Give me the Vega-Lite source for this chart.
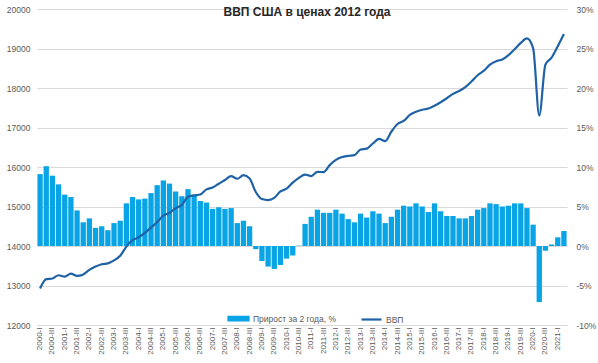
{
  "$schema": "https://vega.github.io/schema/vega-lite/v6.json",
  "width": 530,
  "height": 316,
  "autosize": {"type": "none"},
  "padding": {"left": 37, "top": 9, "right": 31, "bottom": 38},
  "background": "white",
  "config": {"view": {"stroke": null}, "font": "Liberation Sans"},
  "title": {"text": "ВВП США в ценах 2012 года", "fontSize": 12, "fontWeight": "bold", "color": "#262626", "anchor": "middle", "offset": -14, "dx": 5},
  "data": {"values": [
    {"q": "2000-I", "gdp": 12924, "g": 9.1},
    {"q": "2000-II", "gdp": 13161, "g": 10.1},
    {"q": "2000-III", "gdp": 13178, "g": 8.9},
    {"q": "2000-IV", "gdp": 13260, "g": 7.8},
    {"q": "2001-I", "gdp": 13223, "g": 6.5},
    {"q": "2001-II", "gdp": 13300, "g": 6.2},
    {"q": "2001-III", "gdp": 13245, "g": 4.5},
    {"q": "2001-IV", "gdp": 13281, "g": 3.0},
    {"q": "2002-I", "gdp": 13397, "g": 3.5},
    {"q": "2002-II", "gdp": 13478, "g": 2.3},
    {"q": "2002-III", "gdp": 13539, "g": 2.5},
    {"q": "2002-IV", "gdp": 13560, "g": 2.0},
    {"q": "2003-I", "gdp": 13635, "g": 2.9},
    {"q": "2003-II", "gdp": 13751, "g": 3.2},
    {"q": "2003-III", "gdp": 13985, "g": 5.4},
    {"q": "2003-IV", "gdp": 14146, "g": 6.2},
    {"q": "2004-I", "gdp": 14221, "g": 5.9},
    {"q": "2004-II", "gdp": 14330, "g": 6.0},
    {"q": "2004-III", "gdp": 14465, "g": 6.7},
    {"q": "2004-IV", "gdp": 14606, "g": 7.7},
    {"q": "2005-I", "gdp": 14767, "g": 8.3},
    {"q": "2005-II", "gdp": 14839, "g": 7.9},
    {"q": "2005-III", "gdp": 14956, "g": 6.9},
    {"q": "2005-IV", "gdp": 15041, "g": 6.3},
    {"q": "2006-I", "gdp": 15244, "g": 7.2},
    {"q": "2006-II", "gdp": 15281, "g": 6.5},
    {"q": "2006-III", "gdp": 15305, "g": 5.7},
    {"q": "2006-IV", "gdp": 15434, "g": 5.5},
    {"q": "2007-I", "gdp": 15479, "g": 4.7},
    {"q": "2007-II", "gdp": 15577, "g": 4.9},
    {"q": "2007-III", "gdp": 15671, "g": 4.7},
    {"q": "2007-IV", "gdp": 15767, "g": 4.8},
    {"q": "2008-I", "gdp": 15702, "g": 2.9},
    {"q": "2008-II", "gdp": 15792, "g": 3.2},
    {"q": "2008-III", "gdp": 15709, "g": 2.5},
    {"q": "2008-IV", "gdp": 15366, "g": -0.4},
    {"q": "2009-I", "gdp": 15188, "g": -1.9},
    {"q": "2009-II", "gdp": 15161, "g": -2.6},
    {"q": "2009-III", "gdp": 15216, "g": -2.9},
    {"q": "2009-IV", "gdp": 15380, "g": -2.4},
    {"q": "2010-I", "gdp": 15450, "g": -1.6},
    {"q": "2010-II", "gdp": 15606, "g": -1.2},
    {"q": "2010-III", "gdp": 15726, "g": 0.05},
    {"q": "2010-IV", "gdp": 15809, "g": 2.8},
    {"q": "2011-I", "gdp": 15769, "g": 3.7},
    {"q": "2011-II", "gdp": 15876, "g": 4.6},
    {"q": "2011-III", "gdp": 15871, "g": 4.2},
    {"q": "2011-IV", "gdp": 16048, "g": 4.2},
    {"q": "2012-I", "gdp": 16179, "g": 4.6},
    {"q": "2012-II", "gdp": 16254, "g": 4.1},
    {"q": "2012-III", "gdp": 16282, "g": 3.4},
    {"q": "2012-IV", "gdp": 16300, "g": 3.0},
    {"q": "2013-I", "gdp": 16442, "g": 4.1},
    {"q": "2013-II", "gdp": 16464, "g": 3.6},
    {"q": "2013-III", "gdp": 16595, "g": 4.4},
    {"q": "2013-IV", "gdp": 16713, "g": 4.1},
    {"q": "2014-I", "gdp": 16655, "g": 2.9},
    {"q": "2014-II", "gdp": 16894, "g": 3.7},
    {"q": "2014-III", "gdp": 17089, "g": 4.6},
    {"q": "2014-IV", "gdp": 17165, "g": 5.1},
    {"q": "2015-I", "gdp": 17320, "g": 5.0},
    {"q": "2015-II", "gdp": 17400, "g": 5.4},
    {"q": "2015-III", "gdp": 17450, "g": 5.0},
    {"q": "2015-IV", "gdp": 17480, "g": 4.3},
    {"q": "2016-I", "gdp": 17550, "g": 5.4},
    {"q": "2016-II", "gdp": 17640, "g": 4.4},
    {"q": "2016-III", "gdp": 17740, "g": 3.8},
    {"q": "2016-IV", "gdp": 17850, "g": 3.8},
    {"q": "2017-I", "gdp": 17926, "g": 3.5},
    {"q": "2017-II", "gdp": 18022, "g": 3.5},
    {"q": "2017-III", "gdp": 18164, "g": 3.8},
    {"q": "2017-IV", "gdp": 18324, "g": 4.6},
    {"q": "2018-I", "gdp": 18438, "g": 4.8},
    {"q": "2018-II", "gdp": 18590, "g": 5.4},
    {"q": "2018-III", "gdp": 18679, "g": 5.3},
    {"q": "2018-IV", "gdp": 18721, "g": 5.0},
    {"q": "2019-I", "gdp": 18833, "g": 5.1},
    {"q": "2019-II", "gdp": 18983, "g": 5.4},
    {"q": "2019-III", "gdp": 19141, "g": 5.4},
    {"q": "2019-IV", "gdp": 19254, "g": 4.8},
    {"q": "2020-I", "gdp": 19010, "g": 2.7},
    {"q": "2020-II", "gdp": 17303, "g": -7.1},
    {"q": "2020-III", "gdp": 18597, "g": -0.6},
    {"q": "2020-IV", "gdp": 18767, "g": 0.2},
    {"q": "2021-I", "gdp": 19056, "g": 1.1},
    {"q": "2021-II", "gdp": 19368, "g": 1.9}
  ]},
  "encoding": {
    "x": {
      "field": "q", "type": "nominal", "sort": null,
      "scale": {"paddingInner": 0.14, "paddingOuter": 0.07},
      "axis": {
        "title": null, "labelAngle": -90,
        "labelExpr": "test(/-(I|III)$/, datum.label) ? datum.label : ''",
        "ticks": false, "domain": false, "labelFontSize": 8, "labelColor": "#595959",
        "labelPadding": 2, "labelOverlap": false
      }
    }
  },
  "layer": [
    {
      "mark": {"type": "bar"},
      "encoding": {
        "y": {
          "field": "g", "type": "quantitative",
          "scale": {"domain": [-10, 30], "nice": false},
          "axis": {
            "orient": "right", "values": [-10, -5, 0, 5, 10, 15, 20, 25, 30],
            "labelExpr": "datum.value + '%'", "grid": false, "domain": false, "ticks": false,
            "labelFontSize": 8.5, "labelColor": "#595959", "labelPadding": 9, "title": null
          }
        },
        "color": {
          "datum": "Прирост за 2 года, %", "type": "nominal",
          "scale": {"domain": ["Прирост за 2 года, %", "ВВП"], "range": ["#08a4e6", "#1f63a6"]},
          "legend": {
            "orient": "none", "legendX": 190, "legendY": 298, "direction": "horizontal",
            "title": null, "symbolSize": 400, "labelFontSize": 8.5, "labelColor": "#595959",
            "columnPadding": 20, "labelOffset": 3, "padding": 0,
            "encode": {
              "symbols": {
                "update": {
                  "shape": {"signal": "datum.value === 'ВВП' ? 'stroke' : 'M-1,-0.18H1V0.18H-1Z'"},
                  "fill": {"signal": "datum.value === 'ВВП' ? 'transparent' : '#08a4e6'"},
                  "stroke": {"signal": "datum.value === 'ВВП' ? '#1f63a6' : 'transparent'"},
                  "strokeWidth": {"value": 2.2},
                  "opacity": {"value": 1}
                }
              }
            }
          }
        }
      }
    },
    {
      "mark": {"type": "line", "strokeWidth": 2.2, "interpolate": "monotone"},
      "encoding": {
        "y": {
          "field": "gdp", "type": "quantitative",
          "scale": {"domain": [12000, 20000], "nice": false, "zero": false},
          "axis": {
            "orient": "left", "values": [12000, 13000, 14000, 15000, 16000, 17000, 18000, 19000, 20000],
            "format": "d", "grid": true, "gridColor": "#d9d9d9", "domain": false, "ticks": false,
            "labelFontSize": 8.5, "labelColor": "#595959", "labelPadding": 7, "title": null
          }
        },
        "color": {"datum": "ВВП", "type": "nominal"}
      }
    }
  ],
  "resolve": {"scale": {"y": "independent"}}
}
